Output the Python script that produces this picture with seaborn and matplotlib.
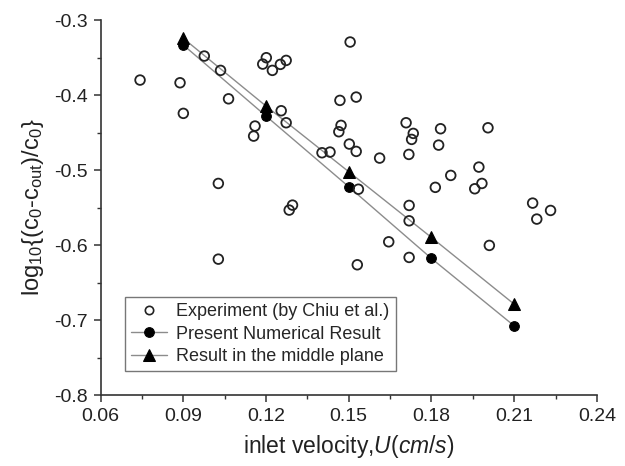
import matplotlib
matplotlib.use("Agg")
import matplotlib.pyplot as plt
import seaborn as sns
import numpy as np
from matplotlib.ticker import MultipleLocator, AutoMinorLocator
from matplotlib.lines import Line2D

# ---- data ----
exp_x = [0.0743, 0.0888, 0.0900, 0.0976, 0.1035, 0.1064, 0.1160, 0.1155, 0.1027, 0.1027,
         0.1201, 0.1188, 0.1223, 0.1252, 0.1273, 0.1505, 0.1468, 0.1527, 0.1255, 0.1273,
         0.1472, 0.1464, 0.1502, 0.1527, 0.1403, 0.1432, 0.1612, 0.1708, 0.1734, 0.1728,
         0.1718, 0.1535, 0.1296, 0.1284, 0.1719, 0.1719, 0.1645, 0.1719, 0.1531, 0.1833,
         0.1826, 0.2005, 0.1972, 0.1870, 0.1983, 0.1957, 0.1814, 0.2167, 0.2232, 0.2182,
         0.2010]
exp_y = [-0.380, -0.3836, -0.4244, -0.348, -0.3671, -0.405, -0.4413, -0.4547, -0.5178, -0.6187,
         -0.3502, -0.3587, -0.3671, -0.3591, -0.3538, -0.3293, -0.4071, -0.4027, -0.4209, -0.4369,
         -0.4404, -0.4489, -0.4653, -0.4751, -0.4769, -0.4760, -0.4840, -0.4369, -0.4511, -0.4591,
         -0.4791, -0.5255, -0.5467, -0.5533, -0.5471, -0.5676, -0.5956, -0.6164, -0.6262, -0.4449,
         -0.4667, -0.4436, -0.4960, -0.5071, -0.5178, -0.5249, -0.5230, -0.5440, -0.5538, -0.5653,
         -0.6004]

num_x = [0.09, 0.12, 0.15, 0.18, 0.21]
num_y = [-0.3333, -0.4280, -0.5222, -0.6178, -0.7076]
mid_x = [0.09, 0.12, 0.15, 0.18, 0.21]
mid_y = [-0.3244, -0.4147, -0.5022, -0.5898, -0.6787]

x_ticks = [0.06, 0.09, 0.12, 0.15, 0.18, 0.21, 0.24]
y_ticks = [-0.8, -0.7, -0.6, -0.5, -0.4, -0.3]

# ---- style ----
sns.set_style("ticks")
plt.rcParams['font.family'] = ['Liberation Sans', 'DejaVu Sans']
plt.rcParams['mathtext.fontset'] = 'custom'
plt.rcParams['mathtext.rm'] = 'Liberation Sans'
plt.rcParams['mathtext.it'] = 'Liberation Sans:italic'
plt.rcParams['mathtext.default'] = 'regular'

fig = plt.figure(figsize=(6.25, 4.66), dpi=100)
ax = fig.add_axes([0.161, 0.152, 0.794, 0.805])

line_col = '#8c8c8c'
sns.lineplot(x=num_x, y=num_y, ax=ax, sort=False, color=line_col, linewidth=1.0,
             marker='o', markersize=7, markerfacecolor='black', markeredgecolor='black',
             label='Present Numerical Result', zorder=3)
sns.lineplot(x=mid_x, y=mid_y, ax=ax, sort=False, color=line_col, linewidth=1.0,
             marker='^', markersize=8, markerfacecolor='black', markeredgecolor='black',
             label='Result in the middle plane', zorder=3)
sns.scatterplot(x=exp_x, y=exp_y, ax=ax, marker='o', s=48, facecolor='none',
                edgecolor='#222222', linewidth=1.3, label='Experiment (by Chiu et al.)', zorder=4)

ax.set_xlim(0.06, 0.24)
ax.set_ylim(-0.8, -0.3)
ax.set_xticks(x_ticks)
ax.set_yticks(y_ticks)
ax.set_xticklabels([f"{v:.2f}" for v in x_ticks])
ax.set_yticklabels([f"{v:.1f}" for v in y_ticks])
ax.xaxis.set_minor_locator(AutoMinorLocator(2))
ax.yaxis.set_minor_locator(AutoMinorLocator(2))
ax.tick_params(axis='both', which='major', direction='out', length=5, width=1.1,
               labelsize=14, color='#333333', labelcolor='#222222', pad=4)
ax.tick_params(axis='both', which='minor', direction='out', length=3, width=1.0, color='#333333')

sns.despine(ax=ax)
for s in ['left', 'bottom']:
    ax.spines[s].set_linewidth(1.2)
    ax.spines[s].set_color('#333333')

ax.set_xlabel('inlet velocity,' + r'$\mathit{U(cm/s)}$', fontsize=16.5, color='#222222', labelpad=6)
ax.set_ylabel('log' + r'$_{10}$' + '{(c' + r'$_0$' + '-c' + r'$_{out}$' + ')/c' + r'$_0$' + '}',
              fontsize=17, color='#222222', labelpad=6)

handles, labels = ax.get_legend_handles_labels()
exp_handle = Line2D([], [], linestyle='none', marker='o', markersize=6, markerfacecolor='none',
                    markeredgecolor='#222222', markeredgewidth=1.2)
leg = ax.legend([exp_handle, handles[0], handles[1]], [labels[2], labels[0], labels[1]],
                loc='upper left', bbox_to_anchor=(0.049, 0.262), borderaxespad=0,
                fontsize=13, frameon=True, fancybox=False, handlelength=2.0,
                handletextpad=0.5, labelspacing=0.3, borderpad=0.35)
leg.get_frame().set_edgecolor('#555555')
leg.get_frame().set_linewidth(1.0)

fig.savefig('out.png', dpi=100)
